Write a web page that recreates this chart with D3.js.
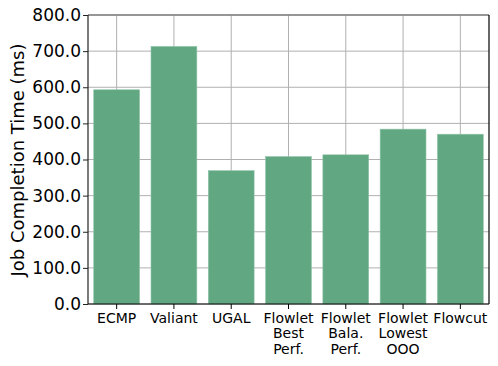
<!DOCTYPE html>
<html>
<head>
<meta charset="utf-8">
<script src="https://cdn.jsdelivr.net/npm/d3@7"></script>
<style>
  body { margin: 0; background: white; }
  svg { display: block; font-family: "DejaVu Sans", sans-serif; }
</style>
</head>
<body>
<svg width="498" height="366"></svg>
<script>
// data
var categories = ["ECMP", "Valiant", "UGAL", "Flowlet\nBest\nPerf.", "Flowlet\nBala.\nPerf.", "Flowlet\nLowest\nOOO", "Flowcut"]
var jct = [593, 713, 369, 408, 413, 484, 470]
var yTicks = [0, 100, 200, 300, 400, 500, 600, 700, 800]

function main(){
	var margin = {top: 15, right: 9, bottom: 62, left: 88};
	var svg = d3.select("svg")
	var width = svg.attr("width") - margin.left - margin.right;
	var height = svg.attr("height") - margin.top - margin.bottom;

	var canvas = svg.append("g")
	.attr("transform", "translate(" + margin.left + "," + margin.top + ")")

	var xScale = d3.scaleBand().domain(categories).range([0, width])
	.paddingInner(0.2).paddingOuter(0.1)
	var yScale = d3.scaleLinear().domain([0, 800]).range([height, 0])

	// grid
	canvas.selectAll(".hgrid").data(yTicks).enter().append("line")
	.attr("x1", 0).attr("x2", width)
	.attr("y1", d => yScale(d)).attr("y2", d => yScale(d))
	.attr("stroke", "#b0b0b0").attr("stroke-width", 1)
	canvas.selectAll(".vgrid").data(categories).enter().append("line")
	.attr("x1", d => xScale(d) + xScale.bandwidth() / 2)
	.attr("x2", d => xScale(d) + xScale.bandwidth() / 2)
	.attr("y1", 0).attr("y2", height)
	.attr("stroke", "#b0b0b0").attr("stroke-width", 1)

	// bars
	canvas.selectAll(".bar").data(jct).enter().append("rect")
	.attr("x", (d, i) => xScale(categories[i]))
	.attr("width", xScale.bandwidth())
	.attr("y", d => yScale(d))
	.attr("height", d => height - yScale(d))
	.attr("fill", "#60a782")
	.attr("stroke", "#8fc4a8").attr("stroke-width", 0.6)

	// axes
	var yAxis = d3.axisLeft(yScale).tickValues(yTicks).tickFormat(d3.format(".1f")).tickSize(5).tickPadding(2)
	var gy = canvas.append("g").call(yAxis)
	gy.selectAll("text").attr("font-size", 17).attr("fill", "black").attr("font-family", "DejaVu Sans")
	gy.selectAll("line").attr("stroke", "#222")
	gy.select(".domain").remove()

	var xAxis = d3.axisBottom(xScale).tickSize(5).tickFormat("")
	var gx = canvas.append("g").attr("transform", "translate(0," + height + ")").call(xAxis)
	gx.select(".domain").remove()
	gx.selectAll(".tick").each(function(d){
		var lines = d.split("\n")
		var t = d3.select(this).append("text")
		.attr("text-anchor", "middle").attr("fill", "black")
		.attr("font-size", 14).attr("font-family", "DejaVu Sans")
		lines.forEach(function(l, j){
			t.append("tspan").attr("x", 0).attr("y", 18.5 + j * 15.5).text(l)
		})
	})

	// spines
	canvas.append("line").attr("x1", 0).attr("x2", width).attr("y1", 0).attr("y2", 0)
	.attr("stroke", "#808080").attr("stroke-width", 1.3)
	canvas.append("line").attr("x1", 0).attr("x2", 0).attr("y1", 0).attr("y2", height)
	.attr("stroke", "#222").attr("stroke-width", 1.2)
	canvas.append("line").attr("x1", width).attr("x2", width).attr("y1", 0).attr("y2", height)
	.attr("stroke", "black").attr("stroke-width", 1.2)
	canvas.append("line").attr("x1", 0).attr("x2", width).attr("y1", height).attr("y2", height)
	.attr("stroke", "black").attr("stroke-width", 1.2)

	// y label
	svg.append("text")
	.attr("transform", "translate(24," + 160 + ") rotate(-90)")
	.attr("text-anchor", "middle").attr("font-size", 18).attr("fill", "black")
	.text("Job Completion Time (ms)")
}

window.onload = function() {
  main()
};
</script>
</body>
</html>
